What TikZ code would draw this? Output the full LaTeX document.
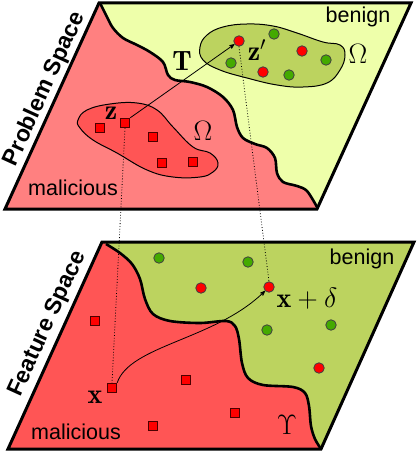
\documentclass[tikz,border=0pt]{standalone}
\usepackage{graphicx}
\usepackage{fontspec}
\newfontfamily\arial{Liberation Sans}
\usetikzlibrary{arrows}

\definecolor{malA}{HTML}{FF8080}
\definecolor{benA}{HTML}{EEFFAA}
\definecolor{malB}{HTML}{FF5555}
\definecolor{benB}{HTML}{BCD35F}
\definecolor{ptred}{HTML}{FF0000}
\definecolor{ptgreen}{HTML}{44AA00}

\newcommand\mlbl[1]{\scalebox{1.35}{$#1$}}

\tikzset{
  malpt/.style={rectangle, draw=black!70!red, fill=ptred, minimum size=9.5pt, inner sep=0pt, line width=.8pt},
  redpt/.style={circle, draw=black!75, fill=ptred, minimum size=10.5pt, inner sep=0pt, line width=.8pt},
  benpt/.style={circle, draw=black!75, fill=ptgreen, minimum size=10.5pt, inner sep=0pt, line width=.8pt},
  border/.style={line width=3pt, line join=miter},
  bound/.style={line width=2.6pt},
  blob/.style={draw=black, line width=1pt},
  spacelbl/.style={font=\arial\bfseries\fontsize{23}{27}\selectfont, rotate=65.5},
  classlbl/.style={font=\arial\fontsize{21.5}{25}\selectfont, anchor=base},
  mathlbl/.style={font=\huge, inner sep=0pt},
  link/.style={dotted, line width=.8pt},
}

% decision boundaries
\newcommand\topcurve{plot[smooth, tension=.55] coordinates {(100,3) (107,17) (113,28) (123,38) (137,45) (150,52) (163,62) (168,75) (175,80) (190,82) (207,87) (223,97) (233,110) (237,127) (243,138) (255,144) (267,148) (275,158) (277,173) (283,182) (297,186) (307,191) (317,207)}}
\newcommand\botcurve{plot[smooth, tension=.55] coordinates {(106,244) (120,253) (132,264) (140,279) (145,299) (153,314) (170,321) (200,323) (226,321) (235,326) (239,339) (242,363) (248,378) (263,385) (293,387) (305,393) (309,406) (311,426) (315,439) (321,449)}}

\begin{document}
\begin{tikzpicture}[x=1pt, y=-1pt, >=stealth']
\useasboundingbox (0,0) rectangle (416,452);

% problem space
\coordinate (PA) at (5,209);
\coordinate (PB) at (99,3);
\coordinate (PC) at (411,3);
\coordinate (PD) at (317,209);
\begin{scope}
\clip (PA) -- (PB) -- (PC) -- (PD) -- cycle;
\fill[malA] (PA) -- (PB) -- (PC) -- (PD) -- cycle;
\fill[benA] \topcurve -- (330,215) -- (420,215) -- (420,-5) -- (100,-5) -- cycle;
\end{scope}
\draw[blob, fill=malB] plot[smooth cycle, tension=.7] coordinates {(78,120) (87,110) (110,104) (137,103) (157,110) (173,127) (193,147) (210,153) (218,163) (213,172) (200,177) (173,177) (147,170) (117,153) (93,140) (80,128)};
\draw[blob, fill=benB] plot[smooth cycle, tension=.7] coordinates {(200,47) (207,35) (223,27) (247,24) (273,26) (297,33) (323,42) (340,45) (345,55) (340,70) (327,83) (303,87) (277,85) (247,78) (220,70) (203,60)};
\draw[bound] \topcurve;
\draw[border] (PA) -- (PB) -- (PC) -- (PD) -- cycle;

% feature space
\coordinate (FA) at (8,449);
\coordinate (FB) at (102,242);
\coordinate (FC) at (414,242);
\coordinate (FD) at (321,449);
\begin{scope}
\clip (FA) -- (FB) -- (FC) -- (FD) -- cycle;
\fill[malB] (FA) -- (FB) -- (FC) -- (FD) -- cycle;
\fill[benB] \botcurve -- (330,455) -- (420,455) -- (420,235) -- (100,235) -- cycle;
\end{scope}
\draw[bound] \botcurve;
\draw[border] (FA) -- (FB) -- (FC) -- (FD) -- cycle;

\node[spacelbl] (plbl) at (45,89) {Problem Space};
\node[spacelbl] (flbl) at (48,324) {Feature Space};

% points in problem space
\node[malpt] (z) at (125,123) {};
\node[malpt] (pm1) at (100,128) {};
\node[malpt] (pm2) at (153,137) {};
\node[malpt] (pm3) at (162,163) {};
\node[malpt] (pm4) at (193,162) {};
\node[redpt] (zp) at (239,41) {};
\node[redpt] (pr1) at (302,51) {};
\node[redpt] (pr2) at (263,72) {};
\node[benpt] (pg1) at (274,34) {};
\node[benpt] (pg2) at (326,60) {};
\node[benpt] (pg3) at (231,63) {};
\node[benpt] (pg4) at (289,75) {};

% points in feature space
\node[malpt] (x) at (112,388) {};
\node[malpt] (fm1) at (95,321) {};
\node[malpt] (fm2) at (186,380) {};
\node[malpt] (fm3) at (235,413) {};
\node[malpt] (fm4) at (153,426) {};
\node[redpt] (xd) at (269,287) {};
\node[redpt] (fr1) at (201,288) {};
\node[redpt] (fr2) at (319,368) {};
\node[benpt] (fg1) at (159,258) {};
\node[benpt] (fg2) at (248,262) {};
\node[benpt] (fg3) at (267,330) {};
\node[benpt] (fg4) at (331,325) {};

% connectors
\draw[link] (z.south) -- (x.north);
\draw[link] (zp.south) -- (xd.north);
\draw[->, line width=.8pt] (z.north east) -- (zp);
\draw[->, line width=.8pt] (x.north east) .. controls (130,345) and (215,340) .. (xd);

% labels
\node[classlbl] (ben1) at (358,23) {benign};
\node[classlbl] (mal1) at (73,195) {malicious};
\node[classlbl] (ben2) at (362,264) {benign};
\node[classlbl] (mal2) at (76,439) {malicious};
\node[mathlbl] (om1) at (203,131) {\mlbl{\Omega}};
\node[mathlbl] (om2) at (358,54) {\mlbl{\Omega}};
\node[mathlbl] (tl) at (182,61) {\mlbl{\mathbf{T}}};
\node[mathlbl] (zl) at (111,113) {\mlbl{\mathbf{z}}};
\node[mathlbl] (zpl) at (257,50) {\mlbl{\mathbf{z}'}};
\node[mathlbl] (ups) at (287,425) {\mlbl{\Upsilon}};
\node[mathlbl] (xl) at (95,397) {\mlbl{\mathbf{x}}};
\node[mathlbl] (xdl) at (307,299) {\mlbl{\mathbf{x}+\delta}};
\end{tikzpicture}
\end{document}
